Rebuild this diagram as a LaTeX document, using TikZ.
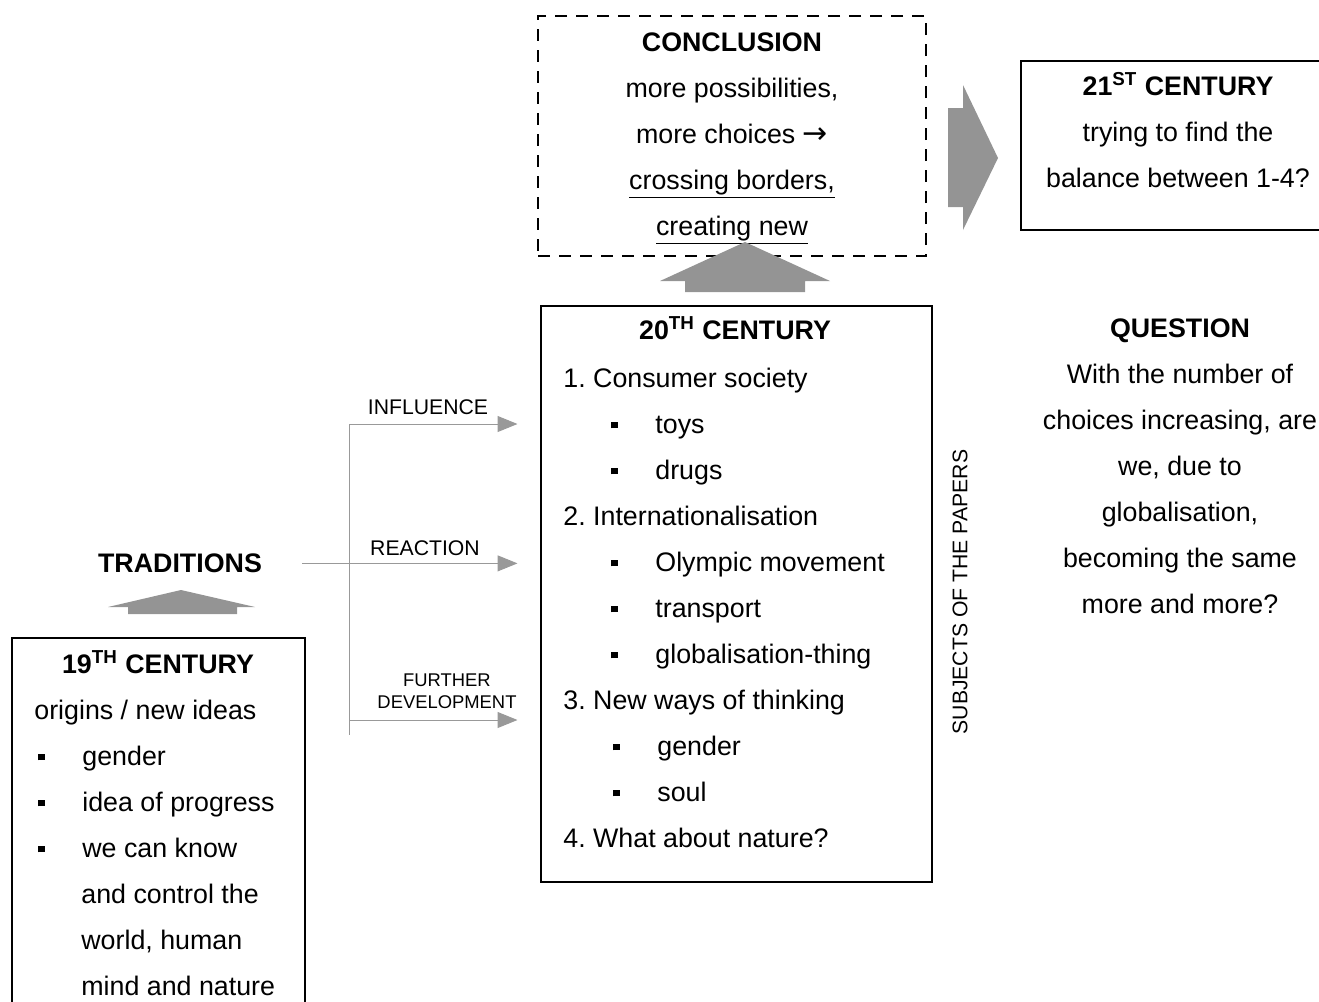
\documentclass[tikz,border=0pt]{standalone}
\usepackage{fontspec}
\setmainfont{Liberation Sans}
\newfontfamily\symfont{DejaVu Sans}
\usetikzlibrary{arrows.meta,positioning}

% square bullet with indent before it
\newcommand{\sqitem}[2]{\hspace*{#1}\makebox[22pt][l]{\raisebox{2.6pt}{\rule{3.3pt}{3.3pt}}}#2}

\begin{document}
\frenchspacing
\begin{tikzpicture}[
      x=0.5pt, y=-0.5pt, % one unit = one pixel of the layout
      box/.style={draw, line width=1pt, inner sep=0pt},
      body/.style={font=\fontsize{13.4}{23}\selectfont, inner sep=0pt},
      title/.style={font=\fontsize{13.4}{23}\selectfont\bfseries, inner sep=0pt},
      small label/.style={font=\fontsize{10.6}{12}\selectfont, inner sep=0pt},
      link/.style={gray!80, line width=0.5pt},
      link arrow/.style={link, -{Triangle[length=10pt, width=8pt]}, shorten >=11.25pt},
      big arrow/.style={fill=black!42, draw=none}
    ]

    \useasboundingbox (0,0) rectangle (1319,1002);

    % Draw the boxes
    \node[box, dash pattern=on 6pt off 4.5pt, minimum width=194pt, minimum height=120pt] (concl) at (732,136) {};
    \node[box, minimum width=152pt, minimum height=84.5pt] (c21) at (1173,145.5) {};
    \node[box, minimum width=195.5pt, minimum height=288pt] (c20) at (736.5,594) {};
    \node[box, minimum width=146.5pt, minimum height=187pt] (c19) at (158.5,825) {};

    % Conclusion
    \node[title, anchor=base] (concl title) at (732,51) {CONCLUSION};
    \foreach \entry [count=\i] in {{more possibilities,}, {more choices {\symfont\fontsize{15}{23}\selectfont →}},
        {\underline{crossing borders,}}, {\underline{creating new}}}
      \node[body, anchor=base] (concl line\i) at (732,{51+46*\i}) {\entry};

    % 21st century
    \node[title, anchor=base] (c21 title) at (1178,95.6) {21\textsuperscript{ST} CENTURY};
    \foreach \entry [count=\i] in {{trying to find the}, {balance between 1-4?}}
      \node[body, anchor=base] (c21 line\i) at (1178,{95.6+46*\i}) {\entry};

    % Question (no frame)
    \node[title, anchor=base] (quest title) at (1180,337.6) {QUESTION};
    \foreach \entry [count=\i] in {{With the number of}, {choices increasing, are},
        {we, due to}, {globalisation,}, {becoming the same}, {more and more?}}
      \node[body, anchor=base] (quest line\i) at (1180,{337.6+46*\i}) {\entry};

    % 20th century
    \node[title, anchor=base] (c20 title) at (735,339.6) {20\textsuperscript{TH} CENTURY};
    \foreach \entry [count=\i] in {
        {1. Consumer society}, {\sqitem{24pt}{toys}}, {\sqitem{24pt}{drugs}},
        {2. Internationalisation}, {\sqitem{24pt}{Olympic movement}},
        {\sqitem{24pt}{transport}}, {\sqitem{24pt}{globalisation-thing}},
        {3. New ways of thinking}, {\sqitem{25pt}{gender}}, {\sqitem{25pt}{soul}},
        {4. What about nature?}}
      \node[body, anchor=base west] (c20 line\i) at (563,{341.6+46*\i}) {\entry};
    \node[small label, rotate=90] (subjects) at (960,592) {SUBJECTS OF THE PAPERS};

    % 19th century
    \node[title, anchor=base] (c19 title) at (158,673.6) {19\textsuperscript{TH} CENTURY};
    \foreach \entry [count=\i] in {
        {origins / new ideas}, {\sqitem{2pt}{gender}}, {\sqitem{2pt}{idea of progress}},
        {\sqitem{2pt}{we can know}}, {\hspace*{23.5pt}and control the},
        {\hspace*{23.5pt}world, human}, {\hspace*{23.5pt}mind and nature}}
      \node[body, anchor=base west] (c19 line\i) at (34,{673.6+46*\i}) {\entry};

    \node[title, anchor=base] (trad) at (180,572.6) {TRADITIONS};

    % Connectors from traditions to the 20th century
    \coordinate (trad out) at ([xshift=20pt]trad.east);
    \coordinate (fork top) at (349,424);
    \coordinate (fork low) at (349,720);
    \coordinate (fork end) at (349,735);
    \draw[link] (fork top) -- (fork end);
    \draw[link arrow] (fork top) -- (fork top -| c20.west);
    \draw[link arrow] (trad out) -- (trad out -| c20.west);
    \draw[link arrow] (fork low) -- (fork low -| c20.west);
    \node[small label, anchor=base] (infl) at (428,414.6) {INFLUENCE};
    \node[small label, anchor=base] (react) at (425,555.6) {REACTION};
    \node[small label, font=\fontsize{9.2}{11}\selectfont, align=center] (further) at (447,691)
      {FURTHER\\DEVELOPMENT};

    % Big shaded arrows
    \fill[big arrow] (685,292) -- (685,281) -- (660,281) -- (745,242) -- (830,281)
      -- (805,281) -- (805,292) -- cycle;
    \fill[big arrow] (948,108) -- (963,108) -- (963,85) -- (998,158) -- (963,230)
      -- (963,207) -- (948,207) -- cycle;
    \fill[big arrow] (128,614) -- (128,607) -- (108,607) -- (181,590) -- (255,607)
      -- (237,607) -- (237,614) -- cycle;

  \end{tikzpicture}
\end{document}
